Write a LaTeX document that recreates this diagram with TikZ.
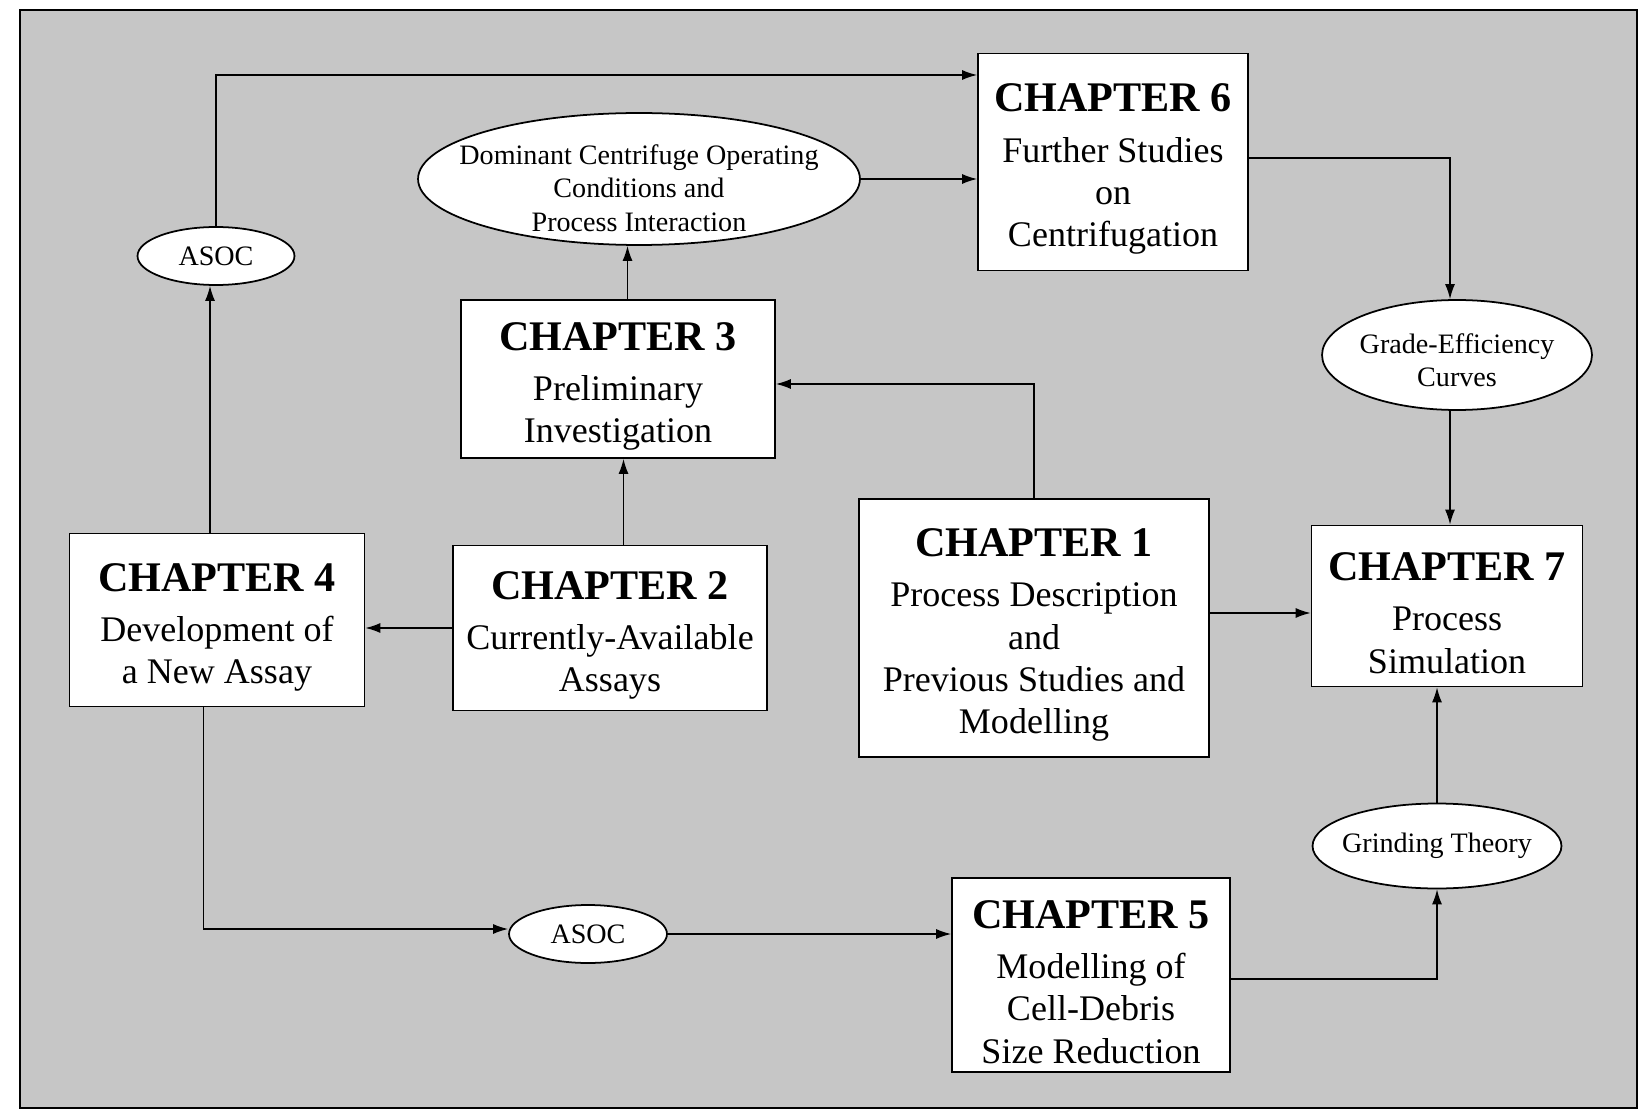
\documentclass[tikz,border=0pt]{standalone}
\usepackage{fontspec}
\setmainfont{Liberation Serif}
\usetikzlibrary{shapes.geometric,arrows.meta}
\def\chap#1{{\fontsize{24}{28}\selectfont\bfseries\rule{0pt}{24pt}CHAPTER #1}\\[4.5pt]}

\begin{document}
\begin{tikzpicture}[x=0.02cm,y=-0.02cm,
    chapbox/.style={draw,fill=white,line width=1pt,align=center,inner sep=0pt,
      font=\fontsize{20.5}{24}\selectfont},
    oval/.style={draw,fill=white,ellipse,line width=1pt,inner sep=0pt},
    ovaltext/.style={align=center,font=\fontsize{16}{19}\selectfont},
    link/.style={line width=0.8pt,-{Latex[length=3mm,width=2mm]}}]
  \useasboundingbox (0,0) rectangle (1639,1111);
  \fill[gray!45] (20,10) rectangle (1637,1108);
  \draw[line width=1pt] (20,10) rectangle (1637,1108);

  % chapters
  \node[chapbox,minimum width=5.4cm,minimum height=4.34cm] (ch6) at (1113,162)
    {\chap{6}Further Studies\\on\\Centrifugation};
  \node[chapbox,minimum width=6.28cm,minimum height=3.16cm] (ch3) at (618,379)
    {\chap{3}Preliminary\\Investigation};
  \node[chapbox,minimum width=5.9cm,minimum height=3.46cm] (ch4) at (217,620)
    {\chap{4}Development of\\a New Assay};
  \node[chapbox,minimum width=6.28cm,minimum height=3.3cm] (ch2) at (610,628)
    {\chap{2}Currently-Available\\Assays};
  \node[chapbox,minimum width=7cm,minimum height=5.16cm] (ch1) at (1034,628)
    {\chap{1}Process Description\\and\\Previous Studies and\\Modelling};
  \node[chapbox,minimum width=5.42cm,minimum height=3.22cm] (ch7) at (1447,606)
    {\chap{7}Process\\Simulation};
  \node[chapbox,minimum width=5.56cm,minimum height=3.88cm] (ch5) at (1091,975)
    {\chap{5}Modelling of\\Cell-Debris\\Size Reduction};

  % ovals
  \node[oval,minimum width=3.14cm,minimum height=1.16cm,
    label={[ovaltext]center:ASOC}] (asoc1) at (216,256) {};
  \node[oval,minimum width=8.84cm,minimum height=2.64cm,
    label={[ovaltext,yshift=-0.18cm]center:Dominant Centrifuge Operating\\Conditions and\\Process Interaction}] (dom) at (639,179) {};
  \node[oval,minimum width=5.4cm,minimum height=2.2cm,
    label={[ovaltext,yshift=-0.1cm]center:Grade-Efficiency\\Curves}] (grade) at (1457,355) {};
  \node[oval,minimum width=3.16cm,minimum height=1.16cm,
    label={[ovaltext]center:ASOC}] (asoc2) at (588,934) {};
  \node[oval,minimum width=4.98cm,minimum height=1.7cm,
    label={[ovaltext]center:Grinding Theory}] (grind) at (1437,846) {};

  \coordinate (topy) at (0,75);

  % links
  \draw[link] (asoc1.north) |- (ch6.west |- topy);
  \draw[link] (dom.east) -- (ch6.west |- dom.east);
  \draw[link] ([xshift=0.19cm]ch3.north) -- ([xshift=0.19cm]ch3.north |- dom.south);
  \draw[link] ([xshift=0.27cm]ch2.north) -- ([xshift=0.27cm]ch2.north |- ch3.south);
  \draw[link] (ch1.north) |- ([yshift=-0.1cm]ch3.east);
  \draw[link] (ch2.west) -- (ch4.east |- ch2.west);
  \draw[link] ([xshift=-0.14cm]ch4.north) -- ([xshift=-0.14cm]ch4.north |- asoc1.south);
  \draw[link] ([xshift=-0.27cm]ch4.south) |- ([yshift=0.1cm]asoc2.west);
  \draw[link] (asoc2.east) -- (ch5.west |- asoc2.east);
  \draw[link] ([yshift=-0.08cm]ch5.east) -| (grind.south);
  \draw[link] (grind.north) -- (grind.north |- ch7.south);
  \draw[link] ([yshift=0.08cm]ch6.east) -| ([xshift=-0.14cm]grade.north);
  \draw[link] ([xshift=-0.14cm]grade.south) -- ([xshift=-0.14cm]grade.south |- ch7.north);
  \draw[link] ([yshift=-0.14cm]ch1.east |- ch7.west) -- ([yshift=-0.14cm]ch7.west);
\end{tikzpicture}
\end{document}
